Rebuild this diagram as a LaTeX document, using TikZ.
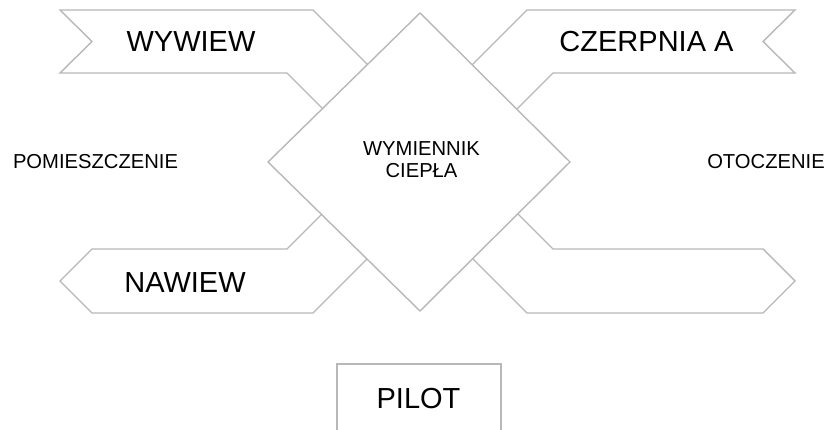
\documentclass[tikz,border=0pt]{standalone}
\usepackage{fontspec}
\setmainfont{Liberation Sans}
\begin{document}
\begin{tikzpicture}[x=1pt,y=-1pt,
  outline/.style={draw=black!28,line width=1.4pt,line join=miter},
  biglabel/.style={anchor=base,inner sep=0pt,font=\fontsize{29}{32}\selectfont},
  smalllabel/.style={anchor=base,inner sep=0pt,font=\fontsize{20.2}{22}\selectfont,align=center}]
\useasboundingbox[fill=white] (0,0) rectangle (830,430);

% heat exchanger core
\coordinate (T) at (420,13);
\coordinate (R) at (570,162);
\coordinate (B) at (420,311);
\coordinate (L) at (268,162);
\draw[outline] (T) -- (R) -- (B) -- (L) -- cycle;

% exhaust duct (top left)
\draw[outline] (367.6,64.6) -- (313,10) -- (60,10) -- (92,41.5) -- (60,73)
  -- (287,73) -- (322.5,108.5);
% intake duct (top right)
\draw[outline] (472,65) -- (527,10) -- (795,10) -- (763,41.5) -- (795,73)
  -- (553,73) -- (517,109);
% supply duct (bottom left)
\draw[outline] (321.5,214.5) -- (287,249) -- (92,249) -- (60,281) -- (92,313)
  -- (313,313) -- (367,259);
% discharge duct (bottom right)
\draw[outline] (517.8,213.8) -- (553,249) -- (763,249) -- (795,281) -- (763,313)
  -- (527,313) -- (472.7,258.7);

% remote control box
\draw[outline] (337,431) -- (337,364) -- (501,364) -- (501,431);

% labels
\node[biglabel] (wywiew) at (191,52) {WYWIEW};
\node[biglabel] (czerpnia) at (646.5,52) {CZERPNIA A};
\node[biglabel] (nawiew) at (185,293) {NAWIEW};
\node[biglabel] (pilot) at (418.5,408) {PILOT};
\node[smalllabel] (pom) at (95.5,169) {POMIESZCZENIE};
\node[smalllabel] (oto) at (766,169) {OTOCZENIE};
\node[smalllabel] (wym1) at (421.5,156) {WYMIENNIK};
\node[smalllabel] (wym2) at (421.5,178) {CIEPŁA};
\end{tikzpicture}
\end{document}
